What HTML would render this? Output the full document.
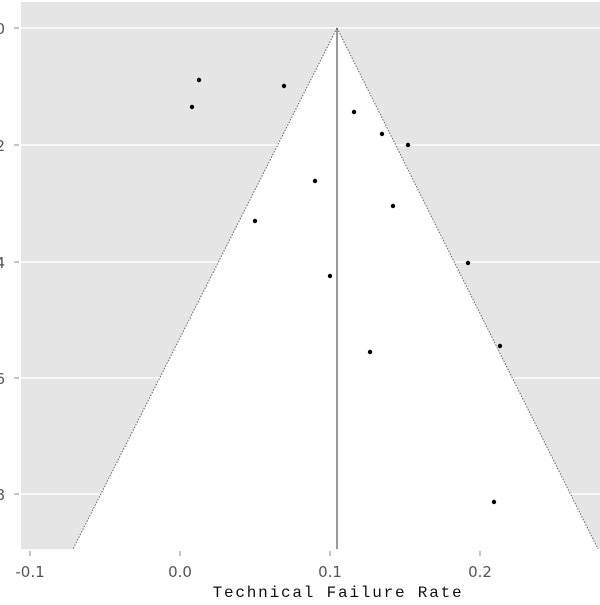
<!DOCTYPE html><html><head><style>body{margin:0;background:#fff}</style></head><body>
<svg width="600" height="600" xmlns="http://www.w3.org/2000/svg">
<rect x="21" y="2" width="579" height="547" fill="#e5e5e5"/>
<g stroke="#fff" stroke-width="1.5">
<line x1="21" x2="600" y1="28" y2="28"/><line x1="21" x2="600" y1="145" y2="145"/><line x1="21" x2="600" y1="262" y2="262"/><line x1="21" x2="600" y1="378" y2="378"/><line x1="21" x2="600" y1="494" y2="494"/>
</g>
<polygon points="337,28 73,549 598,549" fill="#fff"/>
<g stroke="#666" stroke-width="1" stroke-dasharray="1.5,1.5" fill="none">
<line x1="337" y1="28" x2="73" y2="549"/><line x1="337" y1="28" x2="598" y2="549"/></g>
<line x1="337" y1="28" x2="337" y2="549" stroke="#333" stroke-width="1"/>
<g stroke="#888"><line x1="14" x2="19" y1="28" y2="28"/><line x1="14" x2="19" y1="145" y2="145"/><line x1="14" x2="19" y1="262" y2="262"/><line x1="14" x2="19" y1="378" y2="378"/><line x1="14" x2="19" y1="494" y2="494"/>
<line x1="30" x2="30" y1="551" y2="556"/><line x1="180" x2="180" y1="551" y2="556"/><line x1="330" x2="330" y1="551" y2="556"/><line x1="480" x2="480" y1="551" y2="556"/></g>
<g font-family="DejaVu Sans, sans-serif" font-size="15" fill="#555">
<text x="5" y="34" text-anchor="end">0</text><text x="5" y="151" text-anchor="end">2</text><text x="5" y="268" text-anchor="end">4</text><text x="5" y="384" text-anchor="end">6</text><text x="5" y="500" text-anchor="end">8</text>
<text x="30" y="577" text-anchor="middle">-0.1</text><text x="180" y="577" text-anchor="middle">0.0</text><text x="330" y="577" text-anchor="middle">0.1</text><text x="480" y="577" text-anchor="middle">0.2</text></g>
<text x="338" y="597" text-anchor="middle" font-family="Liberation Mono, monospace" font-size="16" letter-spacing="1.8" fill="#111">Technical Failure Rate</text>
<g fill="#000">
<circle cx="199" cy="80" r="2.2"/><circle cx="284" cy="86" r="2.2"/><circle cx="192" cy="107" r="2.2"/><circle cx="354" cy="112" r="2.2"/><circle cx="382" cy="134" r="2.2"/><circle cx="408" cy="145" r="2.2"/><circle cx="315" cy="181" r="2.2"/><circle cx="393" cy="206" r="2.2"/><circle cx="255" cy="221" r="2.2"/><circle cx="468" cy="263" r="2.2"/><circle cx="330" cy="276" r="2.2"/><circle cx="500" cy="346" r="2.2"/><circle cx="370" cy="352" r="2.2"/><circle cx="494" cy="502" r="2.2"/></g>
</svg></body></html>
